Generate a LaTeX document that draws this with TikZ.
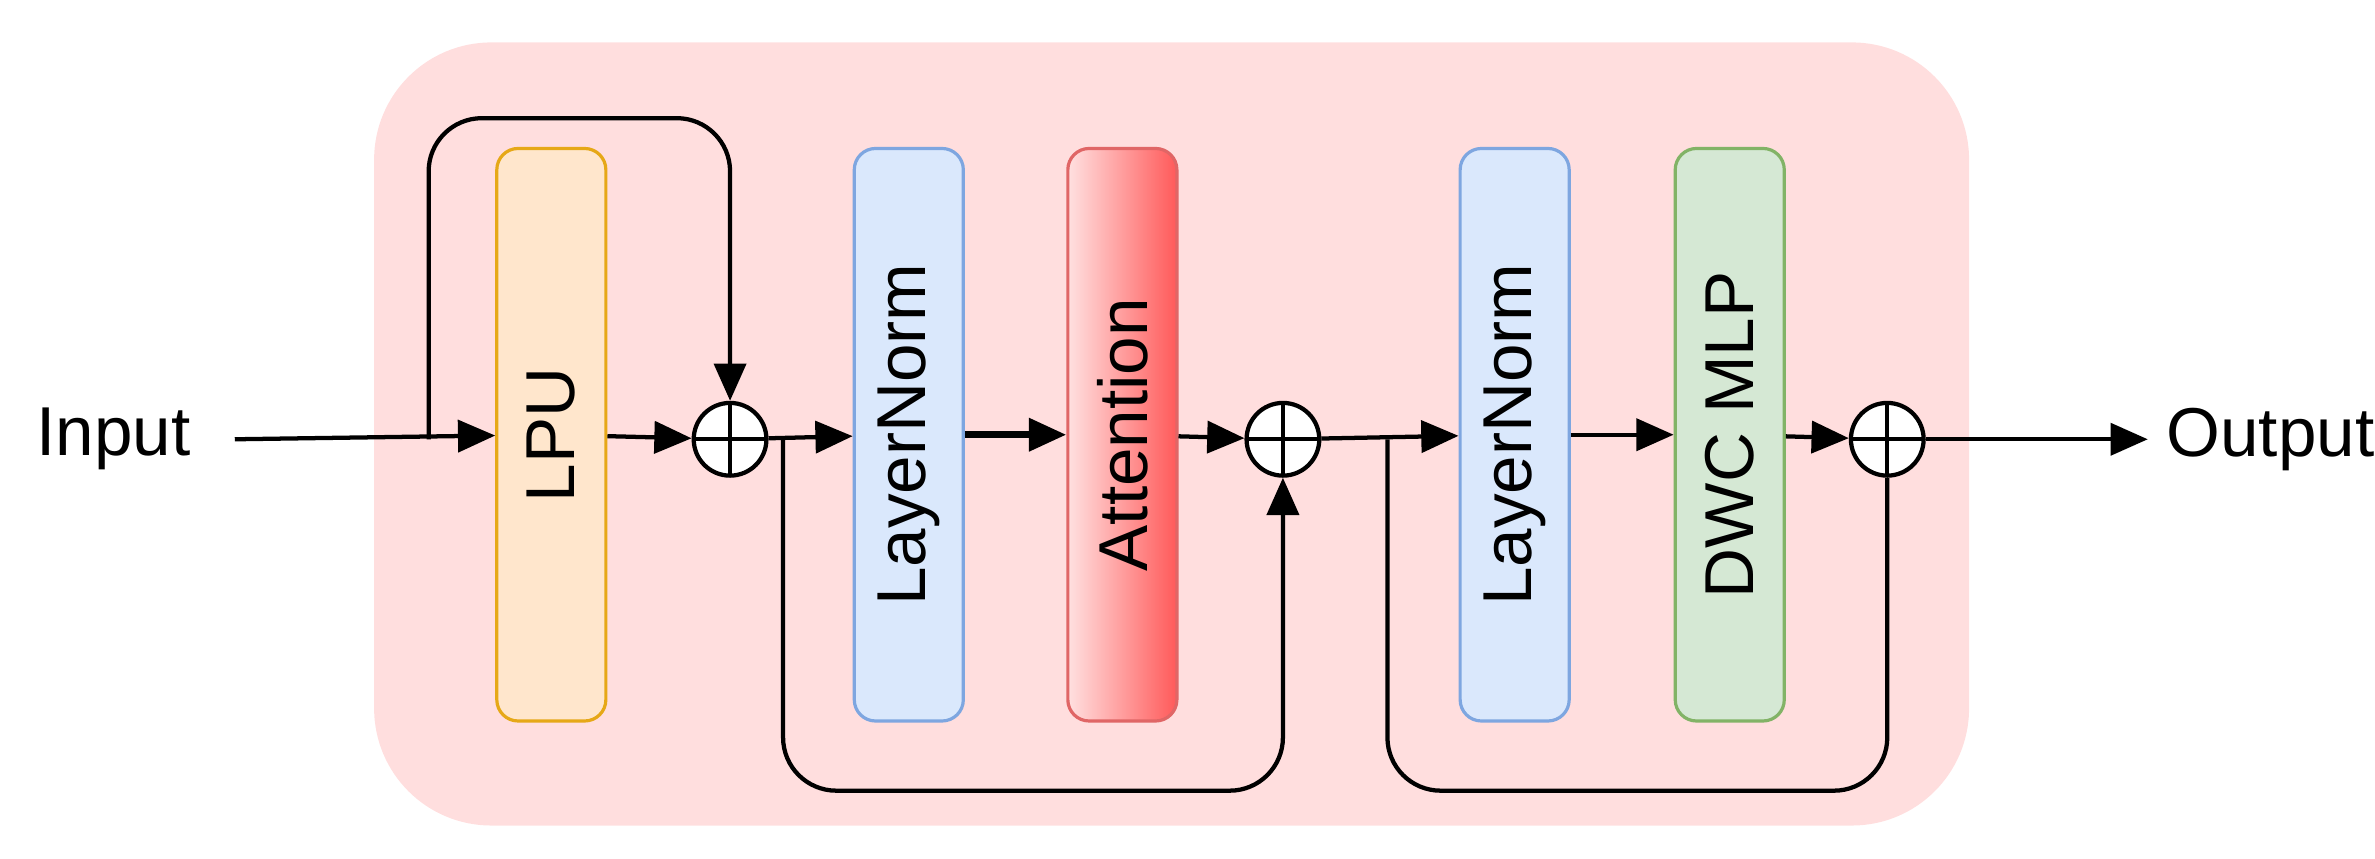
\documentclass[tikz,border=0pt]{standalone}
\usepackage{fontspec}
\setmainfont{Liberation Sans}
\usetikzlibrary{arrows.meta,positioning}
\definecolor{bgpink}{HTML}{FFDEDE}
\definecolor{lpufill}{HTML}{FFE6CC}
\definecolor{lpudraw}{HTML}{E6A817}
\definecolor{lnfill}{HTML}{DAE8FC}
\definecolor{lndraw}{HTML}{7EA6E0}
\definecolor{mlpfill}{HTML}{D5E8D4}
\definecolor{mlpdraw}{HTML}{82B366}
\definecolor{attdraw}{HTML}{E06666}
\tikzset{
  block/.style={rounded corners=4pt, minimum width=0.72cm, minimum height=3.78cm,
    line width=0.6pt, font=\fontsize{13}{15}\selectfont},
  adder/.style={circle, draw, line width=0.8pt, minimum size=0.48cm, inner sep=0pt, fill=white,
    path picture={\draw[line width=0.8pt] (path picture bounding box.north) -- (path picture bounding box.south)
      (path picture bounding box.west) -- (path picture bounding box.east);}},
  arr/.style={-{Triangle[length=7pt,width=6pt]}, line width=0.8pt},
  lbl/.style={font=\fontsize{13}{15}\selectfont}
}
\begin{document}
\begin{tikzpicture}[x=0.1mm,y=-0.1mm]
    \useasboundingbox (0,0) rectangle (1568,567);
    % Background
    \fill[bgpink, rounded corners=22pt] (247,28) rectangle (1300,545);

    % Blocks
    \node[block, draw=lpudraw, fill=lpufill] (lpu) at (364,287) {\rotatebox{90}{LPU}};
    \node[block, draw=lndraw, fill=lnfill] (ln1) at (600,287) {\rotatebox{90}{LayerNorm}};
    \node[block, draw=attdraw, left color=red!12, right color=red!65] (att) at (741,287) {\rotatebox{90}{Attention}};
    \node[block, draw=lndraw, fill=lnfill] (ln2) at (1000,287) {\rotatebox{90}{LayerNorm}};
    \node[block, draw=mlpdraw, fill=mlpfill] (mlp) at (1142,287) {\rotatebox{90}{DWC MLP}};

    % Adders
    \node[adder] (add1) at (482,290) {};
    \node[adder] (add2) at (847,290) {};
    \node[adder] (add3) at (1246,290) {};

    % Input / Output
    \node[lbl] (in) at (75,290) {Input};
    \node[lbl, anchor=west] (out) at (1418,290) {Output};
    \coordinate (instart) at (155,290);
    \coordinate (s1) at (283,290);
    \coordinate (s2) at (517,290);
    \coordinate (s3) at (916,290);

    % Main path
    \draw[arr] (instart) -- (lpu);
    \draw[arr] (lpu) -- (add1);
    \draw[arr] (add1) -- (ln1);
    \draw[arr, line width=1.3pt] (ln1) -- (att);
    \draw[arr] (att) -- (add2);
    \draw[arr] (add2) -- (ln2);
    \draw[arr] (ln2) -- (mlp);
    \draw[arr] (mlp) -- (add3);
    \draw[arr] (add3) -- (out);

    % Skip connections
    \draw[arr, rounded corners=10pt] (s1) |- (482,78) -- (add1.north);
    \draw[arr, rounded corners=10pt] (s2) |- (847,522) -- (add2.south);
    \draw[line width=0.8pt, rounded corners=10pt] (s3) |- (1246,522) -- (add3.south);
\end{tikzpicture}
\end{document}
